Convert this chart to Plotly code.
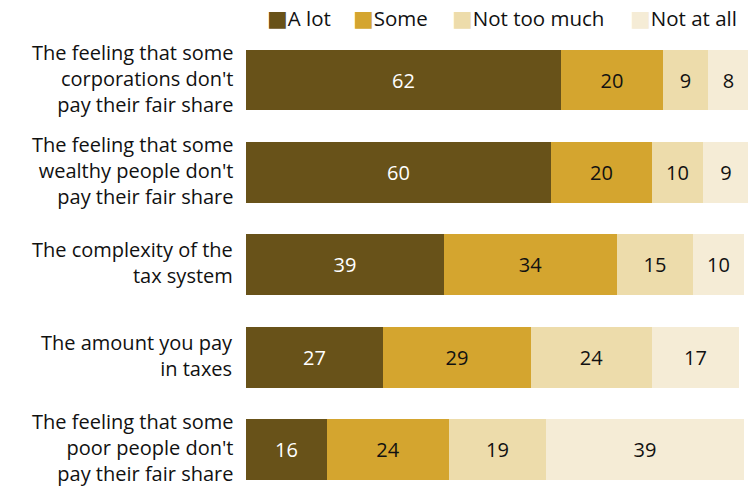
import plotly.graph_objects as go

# Survey items and responses (percent)
categories = [
    "The feeling that some<br>corporations don't<br>pay their fair share",
    "The feeling that some<br>wealthy people don't<br>pay their fair share",
    "The complexity of the<br>tax system",
    "The amount you pay<br>in taxes",
    "The feeling that some<br>poor people don't<br>pay their fair share",
]
series_names = ["A lot", "Some", "Not too much", "Not at all"]
a_lot = [62, 60, 39, 27, 16]
some = [20, 20, 34, 29, 24]
not_too_much = [9, 10, 15, 24, 19]
not_at_all = [8, 9, 10, 17, 39]

colors = ["#685219", "#D4A52F", "#EDDCAB", "#F5ECD6"]
text_colors = ["white", "#111111", "#111111", "#111111"]

W, H = 748, 487
FONT = "Open Sans"
y_pos = list(range(len(categories)))

fig = go.Figure()
for name, vals, col, tcol in zip(series_names,
                                 [a_lot, some, not_too_much, not_at_all],
                                 colors, text_colors):
    fig.add_trace(go.Bar(
        y=y_pos, x=vals, name=name, orientation="h",
        marker=dict(color=col, line=dict(width=0)),
        text=[str(v) for v in vals], textposition="inside",
        insidetextanchor="middle",
        textfont=dict(family=FONT, size=20, color=tcol),
        width=0.66, showlegend=False, hoverinfo="skip",
    ))

# Category labels, right-aligned against the bars
for yi, label in zip(y_pos, categories):
    fig.add_annotation(
        x=235 / W, xref="paper", xanchor="right",
        y=yi, yref="y", yanchor="middle", yshift=2,
        text=label, align="right", showarrow=False,
        font=dict(family=FONT, size=20, color="#111111"),
    )

# Legend row across the top: colour swatch + label
legend_x = [265, 351, 450, 628]
for lx, name, col in zip(legend_x, series_names, colors):
    fig.add_annotation(
        x=lx / W, xref="paper", xanchor="left",
        y=1 - 18 / H, yref="paper", yanchor="middle",
        text=f"<span style='color:{col};font-family:DejaVu Sans;font-size:22px'>■</span>{name}",
        showarrow=False,
        font=dict(family=FONT, size=20.5, color="#111111"),
    )

fig.update_layout(
    width=W, height=H,
    margin=dict(l=0, r=0, t=0, b=0),
    barmode="stack", bargap=0,
    plot_bgcolor="white", paper_bgcolor="white",
    uniformtext=dict(mode="show", minsize=10),
    xaxis=dict(domain=[246 / W, 1], range=[0, 98.8], visible=False, fixedrange=True),
    yaxis=dict(range=[4.406, -0.866], visible=False, fixedrange=True),
)

fig.write_html("out.html")
